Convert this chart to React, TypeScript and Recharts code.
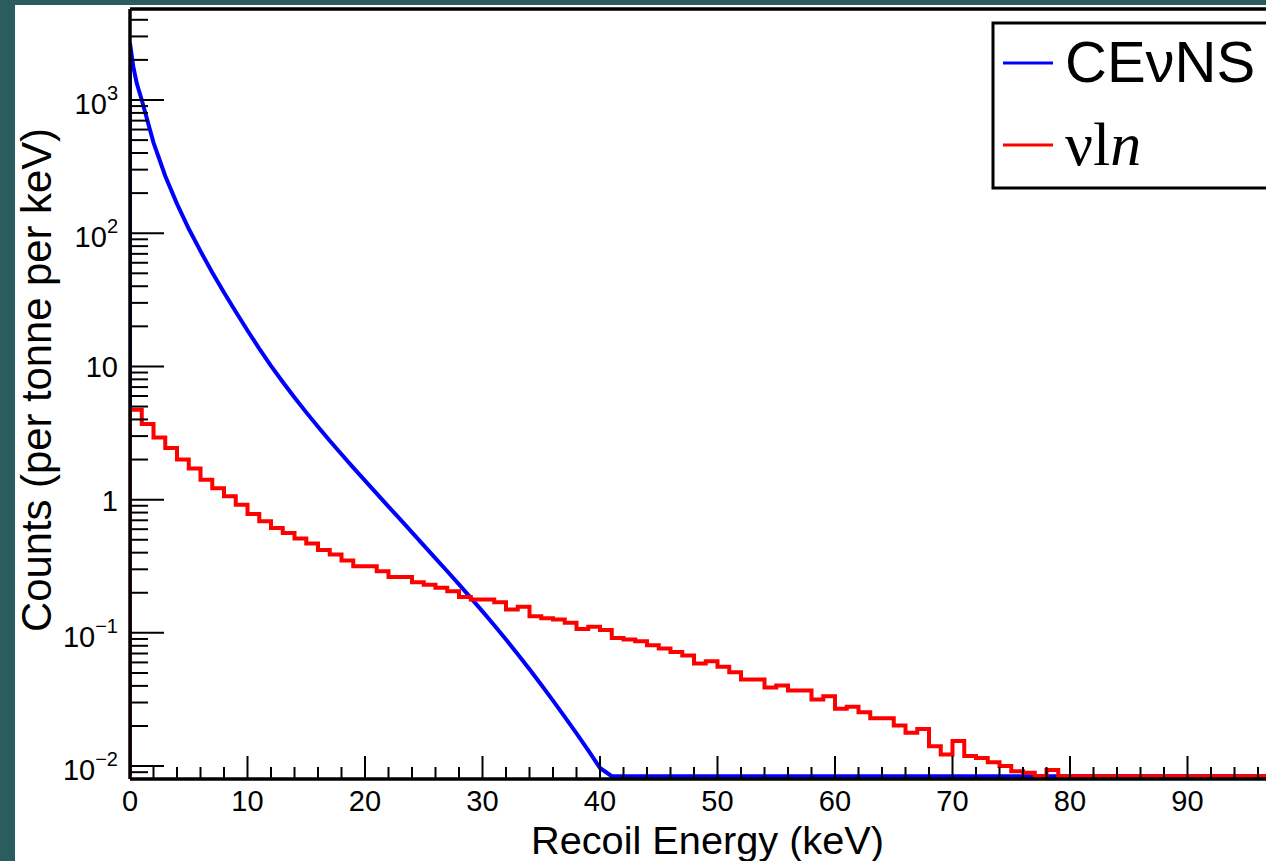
import { LineChart, Line, XAxis, YAxis, Legend, ReferenceLine } from 'recharts'

const X_MAX = 100
const Y_MIN = 0.008
const Y_MAX = 4820
// empty bins are drawn on the floor of the log axis, like ROOT does
const ZERO_LEVEL = 0.0084

const BLUE = '#0000ff'
const RED = '#ff0000'
const FONT = '"Liberation Sans", Arial, sans-serif'
const SERIF = '"Liberation Serif", "Times New Roman", serif'

// CEvNS spectrum (fine bins), read at these recoil energies in keV
const cevnsEnergy = [
  0, 0, 0.28, 0.57, 1, 1.4, 2, 2.5, 3, 4, 5, 6, 7, 8, 9, 10, 11, 12, 13, 14, 15, 16, 17, 18, 19, 20,
  21, 22, 23, 24, 25, 26, 27, 28, 29, 30, 31, 32, 33, 34, 35, 36, 37, 38, 39, 40, 41, 100,
]
const cevnsCounts = [
  0, 2670, 1780, 1340, 1000, 745, 479, 359, 269, 166, 108, 73.3, 50.7, 35.9, 25.7, 18.6, 13.6, 10.1, 7.64, 5.85,
  4.52, 3.52, 2.77, 2.19, 1.74, 1.39, 1.11, 0.887, 0.71, 0.568, 0.454, 0.363, 0.29, 0.231, 0.183, 0.145, 0.114,
  0.0891, 0.0692, 0.0533, 0.0408, 0.031, 0.0234, 0.0176, 0.0131, 0.00968, 0, 0,
]

// vIn histogram, 1 keV bins from 0 to 100 keV
const vinCounts = [
  4.73, 3.7, 2.93, 2.44, 2.0, 1.71, 1.41, 1.22, 1.06, 0.917,
  0.781, 0.688, 0.613, 0.562, 0.51, 0.468, 0.419, 0.387, 0.349, 0.316,
  0.316, 0.29, 0.263, 0.263, 0.24, 0.23, 0.218, 0.205, 0.186, 0.178,
  0.178, 0.17, 0.15, 0.157, 0.133, 0.129, 0.126, 0.119, 0.107, 0.111,
  0.105, 0.0917, 0.0891, 0.0865, 0.0807, 0.0762, 0.072, 0.0676, 0.0589, 0.0612,
  0.0556, 0.0506, 0.0447, 0.0447, 0.0389, 0.0403, 0.0369, 0.0369, 0.0316, 0.0335,
  0.0269, 0.0279, 0.0254, 0.0229, 0.0229, 0.0202, 0.0178, 0.019, 0.0141, 0.0122,
  0.0154, 0.0119, 0.0115, 0.0107, 0.01, 0.00916, 0.00891, 0, 0.00933, 0,
  0, 0, 0, 0, 0, 0, 0, 0, 0, 0,
  0, 0, 0, 0, 0, 0, 0, 0, 0, 0,
]

const xTicks = [
  0, 2, 4, 6, 8, 10, 12, 14, 16, 18, 20, 22, 24, 26, 28, 30, 32, 34, 36, 38, 40, 42, 44, 46, 48, 50,
  52, 54, 56, 58, 60, 62, 64, 66, 68, 70, 72, 74, 76, 78, 80, 82, 84, 86, 88, 90, 92, 94, 96, 98, 100,
]
// 100 sits past the right edge of the picture, so it gets no label
const xLabelled = [0, 10, 20, 30, 40, 50, 60, 70, 80, 90]
const xMajor = [...xLabelled, 100]

const yDecades = [0.001, 0.01, 0.1, 1, 10, 100, 1000]
const yMantissas = [1, 2, 3, 4, 5, 6, 7, 8, 9]

const yTicks = yDecades
  .flatMap((d) => yMantissas.map((m) => +(m * d).toPrecision(3)))
  .filter((v) => v >= Y_MIN && v <= Y_MAX)

const floor = (v: number) => (v > 0 ? v : ZERO_LEVEL)

const cevnsData = cevnsEnergy.map((x, i) => ({ x, y: floor(cevnsCounts[i]) }))

const vinData = [
  { x: 0, y: ZERO_LEVEL },
  ...vinCounts.map((v, i) => ({ x: i, y: floor(v) })),
  { x: X_MAX, y: floor(vinCounts[vinCounts.length - 1]) },
]

function XTick(props: any) {
  const { x, y, payload } = props
  const major = xMajor.includes(payload.value)
  return (
    <g>
      <line x1={x} x2={x} y1={y} y2={y - (major ? 23 : 12)} stroke="#000" strokeWidth={2} />
      {xLabelled.includes(payload.value) && (
        <text x={x} y={y + 32} textAnchor="middle" fontSize={29} fontFamily={FONT} fill="#000">
          {payload.value}
        </text>
      )}
    </g>
  )
}

function YTick(props: any) {
  const { x, y, payload } = props
  const lg = Math.log10(payload.value)
  const exp = Math.round(lg)
  const major = Math.abs(lg - exp) < 1e-6
  let label = null
  if (major) {
    if (exp === 0 || exp === 1) {
      label = (
        <text x={118} y={y + 11} textAnchor="end" fontSize={29} fontFamily={FONT} fill="#000">
          {exp === 0 ? '1' : '10'}
        </text>
      )
    } else {
      label = (
        <text x={118} y={y + 14} textAnchor="end" fontSize={29} fontFamily={FONT} fill="#000">
          10
          <tspan dy={-14} fontSize={20}>
            {exp < 0 ? '\u2212' + Math.abs(exp) : String(exp)}
          </tspan>
        </text>
      )
    }
  }
  return (
    <g>
      <line x1={x} x2={x + (major ? 34 : 18)} y1={y} y2={y} stroke="#000" strokeWidth={2} />
      {label}
    </g>
  )
}

function renderLegend() {
  return (
    <svg width={340} height={172} style={{ display: 'block' }}>
      <rect x={3} y={3} width={360} height={165} fill="#fff" stroke="#000" strokeWidth={3} />
      <line x1={13} x2={63} y1={43} y2={43} stroke={BLUE} strokeWidth={3} />
      <text x={75} y={62} fontSize={58} fontFamily={FONT}>
        CEνNS
      </text>
      <line x1={13} x2={63} y1={125} y2={125} stroke={RED} strokeWidth={3} />
      <text x={75} y={145} fontSize={62} fontFamily={SERIF}>
        νl
        <tspan fontStyle="italic">n</tspan>
      </text>
    </svg>
  )
}

export default function App() {
  return (
    <div
      style={{
        position: 'fixed',
        left: 0,
        top: 0,
        width: 1266,
        height: 861,
        overflow: 'hidden',
        background: '#2b5d5f',
      }}
    >
      <div style={{ position: 'absolute', left: 15, top: 5, right: 0, bottom: 0, background: '#fff' }} />
      <div style={{ position: 'absolute', left: 0, top: 0 }}>
        <LineChart width={1320} height={861} margin={{ top: 9, right: 15, bottom: 0, left: 0 }}>
          <XAxis
            type="number"
            dataKey="x"
            domain={[0, X_MAX]}
            ticks={xTicks}
            interval={0}
            allowDataOverflow
            height={82}
            tickSize={0}
            tickMargin={0}
            tickLine={false}
            axisLine={{ stroke: '#000', strokeWidth: 3.5 }}
            tick={<XTick />}
            label={() => (
              <text
                x={707.5}
                y={854}
                textAnchor="middle"
                fontSize={38}
                fontFamily={FONT}
                textLength={353}
                lengthAdjust="spacingAndGlyphs"
              >
                Recoil Energy (keV)
              </text>
            )}
          />
          <YAxis
            type="number"
            scale="log"
            domain={[Y_MIN, Y_MAX]}
            ticks={yTicks}
            interval={0}
            allowDataOverflow
            width={130}
            tickSize={0}
            tickMargin={0}
            tickLine={false}
            axisLine={{ stroke: '#000', strokeWidth: 3.5 }}
            tick={<YTick />}
            label={() => (
              <text
                transform="translate(51, 380) rotate(-90)"
                textAnchor="middle"
                fontSize={42}
                fontFamily={FONT}
                textLength={504}
                lengthAdjust="spacingAndGlyphs"
              >
                Counts (per tonne per keV)
              </text>
            )}
          />
          <ReferenceLine y={Y_MAX} stroke="#000" strokeWidth={3.5} />
          <Line
            data={cevnsData}
            dataKey="y"
            name="CEvNS"
            type="linear"
            stroke={BLUE}
            strokeWidth={4}
            dot={false}
            isAnimationActive={false}
          />
          <Line
            data={vinData}
            dataKey="y"
            name="vIn"
            type="stepAfter"
            stroke={RED}
            strokeWidth={4}
            dot={false}
            isAnimationActive={false}
          />
          <Legend
            layout="vertical"
            align="center"
            verticalAlign="middle"
            content={renderLegend}
            wrapperStyle={{ position: 'absolute', left: 990, top: 20, width: 340, height: 172, margin: 0 }}
          />
        </LineChart>
      </div>
    </div>
  )
}
